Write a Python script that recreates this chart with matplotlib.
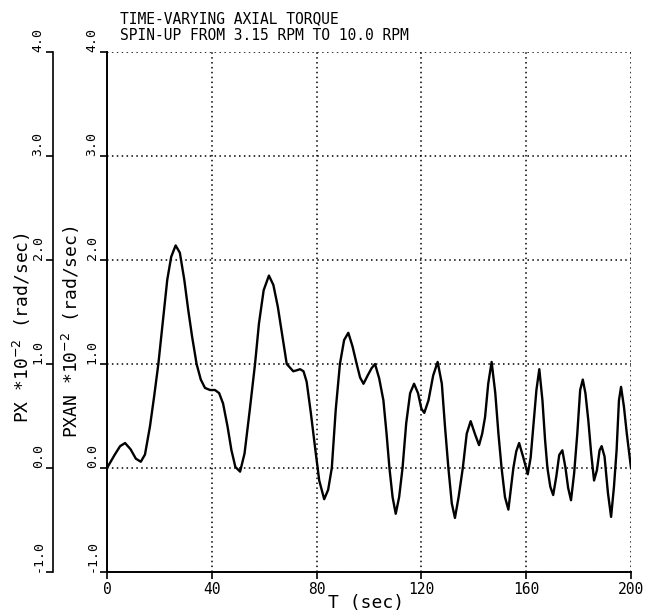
import matplotlib
matplotlib.use("Agg")
import matplotlib.pyplot as plt
from matplotlib import font_manager

# Values (T in sec, PXAN in 1e-2 rad/sec)
t = [0, 3, 5, 6.9, 9, 11, 12.9, 14.5, 16.4, 18, 19.6, 21.5, 23, 24.5, 26.2,
     27.8, 29.5, 31, 32.5, 34.2, 35.8, 37.4, 39.3, 41.2, 42.8, 44.3, 46, 47.5,
     49, 50.8, 52.5, 54.5, 56.5, 58, 59.8, 61.8, 63.5, 65.2, 67, 68.6, 70,
     71.1, 72.5, 73.7, 75, 76.2, 77.8, 79.4, 81, 82.9, 84.4, 85.8, 87.3, 88.9,
     90.5, 92.1, 93.7, 95.3, 96.6, 97.9, 99.5, 101, 102.3, 103.9, 105.5,
     106.7, 107.8, 109, 110.2, 111.5, 112.8, 114.2, 115.7, 117.2, 118.7, 120,
     121.1, 122.7, 124.5, 126.2, 127.8, 129, 130.3, 131.6, 132.8, 134.2,
     135.8, 137.3, 138.8, 140.4, 142, 143.2, 144.3, 145.5, 146.8, 148.2,
     149.4, 150.6, 151.9, 153.2, 154.1, 155.1, 156.2, 157.3, 158.8, 160.6,
     161.7, 162.7, 163.9, 165, 166.2, 167.2, 168.1, 169.2, 170.3, 171.5,
     172.6, 173.8, 175, 176, 177.1, 178.3, 179.5, 180.6, 181.6, 182.6, 183.7,
     184.8, 185.9, 187, 188, 188.8, 189.9, 191.2, 192.4, 193.5, 194.5, 195.4,
     196.2, 197.3, 198.4, 200]
pxan = [0.0, 0.13, 0.21, 0.24, 0.18, 0.09, 0.06, 0.13, 0.40, 0.69, 1.0, 1.45,
        1.81, 2.03, 2.14, 2.07, 1.81, 1.52, 1.26, 1.0, 0.85, 0.77, 0.75, 0.75,
        0.72, 0.62, 0.40, 0.17, 0.01, -0.035, 0.14, 0.56, 1.0, 1.39, 1.71,
        1.85, 1.76, 1.55, 1.26, 1.0, 0.96, 0.93, 0.94, 0.95, 0.93, 0.83, 0.53,
        0.2, -0.12, -0.30, -0.21, 0.0, 0.56, 1.0, 1.23, 1.30, 1.17, 1.0, 0.87,
        0.81, 0.89, 0.96, 1.0, 0.86, 0.65, 0.33, 0.0, -0.28, -0.44, -0.28, 0.0,
        0.43, 0.72, 0.81, 0.72, 0.57, 0.53, 0.65, 0.89, 1.02, 0.81, 0.40, 0.0,
        -0.34, -0.48, -0.28, 0.0, 0.33, 0.45, 0.33, 0.22, 0.33, 0.49, 0.81,
        1.02, 0.72, 0.33, 0.0, -0.28, -0.40, -0.21, 0.0, 0.16, 0.24, 0.11,
        -0.06, 0.10, 0.40, 0.75, 0.95, 0.65, 0.27, 0.0, -0.18, -0.26, -0.08,
        0.125, 0.17, 0.0, -0.19, -0.31, -0.05, 0.33, 0.75, 0.85, 0.72, 0.46,
        0.14, -0.12, -0.02, 0.17, 0.21, 0.11, -0.24, -0.47, -0.18, 0.17, 0.65,
        0.78, 0.59, 0.33, 0.0]

x_ticks = [0, 40, 80, 120, 160, 200]
y_ticks = [-1.0, 0.0, 1.0, 2.0, 3.0, 4.0]
y_ticklabels = ["-1.0", "0.0", "1.0", "2.0", "3.0", "4.0"]

title_lines = ["TIME-VARYING AXIAL TORQUE", "SPIN-UP FROM 3.15 RPM TO 10.0 RPM"]

# narrow font looks closer to the plotter lettering, if present
available = {f.name for f in font_manager.fontManager.ttflist}
if "Liberation Sans Narrow" in available:
    font = "Liberation Sans Narrow"
else:
    font = "DejaVu Sans Mono"
plt.rcParams["font.family"] = [font, "DejaVu Sans"]

W, H = 650, 611
fig = plt.figure(figsize=(6.5, 6.11), dpi=100)

left, right, top, bottom = 107, 631, 52, 572
ax = fig.add_axes([left / W, 1 - bottom / H, (right - left) / W, (bottom - top) / H])
ax.plot(t, pxan, color="black", linewidth=1.7, solid_joinstyle="round")
ax.set_xlim(0, 200)
ax.set_ylim(-1.0, 4.0)
ax.set_xticks(x_ticks)
ax.set_yticks(y_ticks)
ax.set_yticklabels(y_ticklabels)
ax.grid(True, color="black", linestyle=(0, (1, 2.2)), linewidth=1.1)
for s in ["top", "right"]:
    ax.spines[s].set_visible(False)
ax.spines["left"].set_linewidth(1.4)
ax.spines["bottom"].set_linewidth(1.4)
ax.tick_params(axis="both", direction="out", length=5, width=1.2, colors="black")
ax.tick_params(axis="x", labelsize=10.5, pad=2)
ax.tick_params(axis="y", labelsize=9.5, pad=1)
for lab in ax.get_yticklabels():
    lab.set_rotation(90)
    lab.set_va("bottom")

# outer PX axis
ax2 = fig.add_axes([53 / W, 1 - bottom / H, 0.0001, (bottom - top) / H])
ax2.set_ylim(-1.0, 4.0)
ax2.set_yticks(y_ticks)
ax2.set_yticklabels(y_ticklabels)
ax2.set_xticks([])
for s in ["top", "right", "bottom"]:
    ax2.spines[s].set_visible(False)
ax2.spines["left"].set_linewidth(1.2)
ax2.patch.set_visible(False)
ax2.tick_params(axis="y", direction="out", length=5, width=1.2, labelsize=9.5, pad=1)
for lab in ax2.get_yticklabels():
    lab.set_rotation(90)
    lab.set_va("bottom")

fig.text(22 / W, 1 - 328 / H, "PX *10$^{-2}$ (rad/sec)", rotation=90,
         ha="center", va="center", fontsize=13)
fig.text(71 / W, 1 - 332 / H, "PXAN *10$^{-2}$ (rad/sec)", rotation=90,
         ha="center", va="center", fontsize=13)
fig.text(366 / W, 1 - 603 / H, "T (sec)", ha="center", va="center", fontsize=13)

fig.text(120 / W, 1 - 19 / H, title_lines[0], ha="left", va="center", fontsize=10.5)
fig.text(120 / W, 1 - 36 / H, title_lines[1], ha="left", va="center", fontsize=10.5)

fig.savefig("out.png", dpi=100)
